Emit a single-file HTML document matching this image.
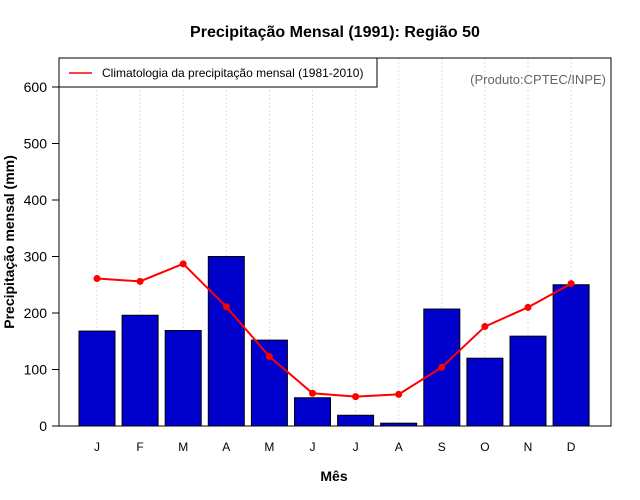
<!DOCTYPE html>
<html><head><meta charset="utf-8"><style>body{margin:0;background:#fff}svg{display:block;font-family:"Liberation Sans",sans-serif}</style></head>
<body>
<svg id="c" width="640" height="500"></svg>
<script>
const months=["J","F","M","A","M","J","J","A","S","O","N","D"];
const precip=[168,196,169,300,152,50,19,5,207,120,159,250];
const clim=[261,256,287,211,123,58,52,56,104,176,210,252];
const yTicks=[0,100,200,300,400,500,600];
const NS="http://www.w3.org/2000/svg";
const svg=document.getElementById("c");
function el(t,a,txt){const e=document.createElementNS(NS,t);for(const k in a)e.setAttribute(k,a[k]);if(txt!==undefined)e.textContent=txt;svg.appendChild(e);return e;}
const L=59,R=611,T=58,B=426;
const y=v=>426-v*0.565;
const x=i=>97+i*43.1;
// grid
months.forEach((m,i)=>{const g=el("line",{x1:x(i),x2:x(i),y1:T,y2:B,stroke:"#ddd","stroke-dasharray":"2,2"});

});
// bars
precip.forEach((v,i)=>{const b=el("rect",{x:x(i)-18,y:y(v),width:36,height:B-y(v),fill:"#0000cd",stroke:"#000","stroke-width":1});

});
// line
const pl=el("polyline",{points:clim.map((v,i)=>x(i)+","+y(v)).join(" "),fill:"none",stroke:"#f00","stroke-width":2});


clim.forEach((v,i)=>{const c=el("circle",{cx:x(i),cy:y(v),r:3.5,fill:"#f00"});

});
// frame
const fr=el("rect",{x:L,y:T,width:R-L,height:B-T,fill:"none",stroke:"#000"});


// y ticks
yTicks.forEach(v=>{el("line",{x1:L-7,x2:L,y1:y(v),y2:y(v),stroke:"#000"});
const t=el("text",{x:L-12,y:y(v)+5,"text-anchor":"end","font-size":14},v);

});
months.forEach((m,i)=>{const t=el("text",{x:x(i),y:451,"text-anchor":"middle","font-size":12},m);

});
</script>
<script>
(function(){const s=document.getElementById("c");const NS="http://www.w3.org/2000/svg";
function el(t,a,txt){const e=document.createElementNS(NS,t);for(const k in a)e.setAttribute(k,a[k]);if(txt!==undefined)e.textContent=txt;s.appendChild(e);return e;}
let e;
e=el("text",{x:335,y:37,"text-anchor":"middle","font-size":16,"font-weight":"bold"},"Precipitação Mensal (1991): Região 50");


e=el("text",{x:334,y:481,"text-anchor":"middle","font-size":14,"font-weight":"bold"},"Mês");


e=el("text",{x:0,y:0,"text-anchor":"middle","font-size":14,"font-weight":"bold",transform:"translate(14,242) rotate(-90)"},"Precipitação mensal (mm)");


e=el("text",{x:606,y:84,"text-anchor":"end","font-size":13,fill:"#666"},"(Produto:CPTEC/INPE)");


e=el("rect",{x:59,y:58,width:318,height:29,fill:"#fff",stroke:"#000"});


el("line",{x1:69,x2:92,y1:73,y2:73,stroke:"#f00","stroke-width":1.5});
e=el("text",{x:102,y:77,"font-size":12},"Climatologia da precipitação mensal (1981-2010)");


})();
</script>
</body></html>
